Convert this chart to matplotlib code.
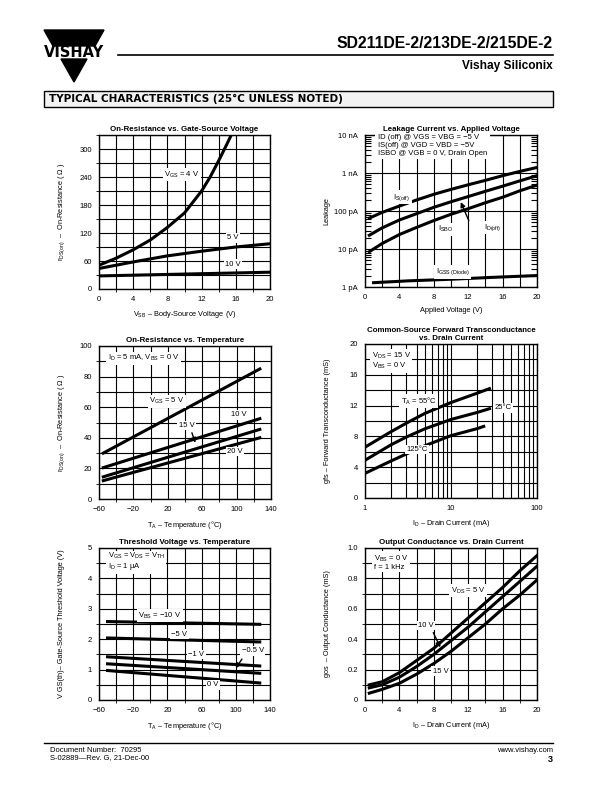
import numpy as np
import matplotlib
matplotlib.use("Agg")
import matplotlib.pyplot as plt
from matplotlib.patches import Polygon, Rectangle
from matplotlib.lines import Line2D

plt.rcParams['font.family'] = ['Liberation Sans', 'DejaVu Sans']
plt.rcParams['mathtext.fontset'] = 'custom'
plt.rcParams['mathtext.rm'] = 'Liberation Sans'
plt.rcParams['mathtext.it'] = 'Liberation Sans'
plt.rcParams['mathtext.default'] = 'regular'

# --- On-Resistance vs. Gate-Source Voltage
vsb_4v = [0, 2, 4, 6, 8, 10, 12, 13, 14, 15, 15.6]
rds_4v = [51, 66, 84, 105, 132, 163, 210, 240, 275, 312, 335]
vsb_5v = [0, 4, 8, 12, 16, 20]
rds_5v = [44, 58, 71, 81, 90, 97]
vsb_10v = [0, 5, 10, 15, 20]
rds_10v = [28, 30, 32, 34, 36]

# --- Leakage Current vs. Applied Voltage (pA)
v_leak = [0.5, 2, 4, 6, 8, 10, 12, 14, 16, 18, 20]
is_off = [65, 92, 135, 195, 275, 370, 490, 640, 850, 1100, 1400]
id_off = [23, 36, 58, 85, 125, 175, 240, 330, 450, 620, 850]
isbo = [8.5, 14, 24, 37, 56, 82, 115, 165, 230, 340, 480]
v_igss = [1, 5, 10, 15, 20]
igss = [1.3, 1.45, 1.6, 1.8, 2.0]

# --- On-Resistance vs. Temperature
temp_r = [-55, 127]
rds_t5 = [30, 85]
rds_t10 = [20.5, 52.5]
rds_t15 = [14.5, 45.5]
rds_t20 = [12, 40]

# --- Forward Transconductance vs. Drain Current
id_m55 = [1, 2, 3, 5, 10, 20, 28]
gfs_m55 = [6.6, 8.6, 9.7, 11.0, 12.4, 13.6, 14.2]
id_25 = [1, 2, 3, 5, 10, 20, 28]
gfs_25 = [4.9, 6.9, 7.9, 9.0, 10.2, 11.1, 11.6]
id_125 = [1, 2, 3, 5, 10, 20, 24]
gfs_125 = [3.2, 4.8, 5.7, 6.8, 8.1, 9.0, 9.3]

# --- Threshold Voltage vs. Temperature
temp_v = [-50, 128]
vth_m10 = [2.58, 2.49]
vth_m5 = [2.04, 1.91]
vth_m1 = [1.42, 1.12]
vth_m05 = [1.19, 0.88]
vth_0 = [0.97, 0.56]

# --- Output Conductance vs. Drain Current
id_gos = [0.5, 2, 4, 6, 8, 10, 12, 14, 16, 18, 20]
gos_5v = [0.10, 0.12, 0.18, 0.26, 0.34, 0.44, 0.54, 0.64, 0.74, 0.85, 0.95]
gos_10v = [0.08, 0.10, 0.15, 0.22, 0.30, 0.39, 0.48, 0.58, 0.68, 0.78, 0.88]
gos_15v = [0.045, 0.07, 0.11, 0.17, 0.24, 0.32, 0.41, 0.50, 0.60, 0.69, 0.79]

W, H = 612, 792
fig = plt.figure(figsize=(6.12, 7.92), dpi=100)

def box(x0, y0, x1, y1):
    return [x0 / W, 1 - y1 / H, (x1 - x0) / W, (y1 - y0) / H]

TICK = 5.5
LBL = 5.3
CLW = 2.2
white = dict(facecolor='white', edgecolor='none', pad=1.0)

def setup(ax, title, xlabel, ylabel, lx, ly=-0.13):
    ax.set_title(title, fontsize=5.7, fontweight='bold', pad=3)
    ax.set_xlabel(xlabel, fontsize=LBL)
    ax.set_ylabel(ylabel, fontsize=LBL)
    ax.yaxis.set_label_coords(lx, 0.5)
    ax.xaxis.set_label_coords(0.5, ly)
    ax.tick_params(labelsize=TICK, length=0, pad=5)
    for s in ax.spines.values():
        s.set_linewidth(1.0)
    ax.grid(True, which='both', color='black', lw=0.8)
    ax.set_axisbelow(True)

def lab(ax, x, y, s, **kw):
    ax.text(x, y, s, fontsize=TICK, ha='center', va='center', bbox=white, **kw)

# ---------- Plot 1
ax1 = fig.add_axes(box(99, 135, 270, 289))
ax1.plot(vsb_4v, rds_4v, color='black', lw=CLW)
ax1.plot(vsb_5v, rds_5v, color='black', lw=CLW)
ax1.plot(vsb_10v, rds_10v, color='black', lw=CLW)
ax1.set_xlim(0, 20)
ax1.set_ylim(0, 330)
ax1.set_xticks(np.arange(0, 21, 4))
ax1.set_xticks(np.arange(0, 21, 2), minor=True)
ax1.set_yticks(np.arange(0, 301, 60))
ax1.set_yticks(np.arange(0, 331, 30), minor=True)
setup(ax1, 'On-Resistance vs. Gate-Source Voltage',
      'V$_{SB}$ – Body-Source Voltage (V)',
      'r$_{DS(on)}$  –  On-Resistance ( Ω )', -0.185)
lab(ax1, 9.7, 245, 'V$_{GS}$ = 4 V')
lab(ax1, 15.7, 110, '5 V')
lab(ax1, 15.7, 53, '10 V')

# ---------- Plot 2
ax2 = fig.add_axes(box(365, 135, 537, 287))
pA = 1e-12
ax2.plot(v_leak, np.array(is_off) * pA, color='black', lw=CLW)
ax2.plot(v_leak, np.array(id_off) * pA, color='black', lw=CLW)
ax2.plot(v_leak, np.array(isbo) * pA, color='black', lw=CLW)
ax2.plot(v_igss, np.array(igss) * pA, color='black', lw=CLW)
ax2.set_yscale('log')
ax2.set_xlim(0, 20)
ax2.set_ylim(1e-12, 1e-8)
ax2.set_xticks(np.arange(0, 21, 4))
ax2.set_xticks(np.arange(0, 21, 2), minor=True)
ax2.set_yticks([1e-12, 1e-11, 1e-10, 1e-9, 1e-8])
ax2.set_yticklabels(['1 pA', '10 pA', '100 pA', '1 nA', '10 nA'])
setup(ax2, 'Leakage Current vs. Applied Voltage', 'Applied Voltage (V)', 'Leakage', -0.2)
ax2.grid(False, which='both')
ax2.grid(True, which='major', color='black', lw=0.8)
ax2.grid(True, which='minor', axis='x', color='black', lw=0.8)
ax2.tick_params(axis='y', which='minor', direction='in', length=4.5, width=0.8,
                left=True, right=True, labelleft=False)
ax2.tick_params(axis='x', which='minor', length=0)
ax2.text(1.5, 5.3e-9, 'ID (off) @ VGS = VBG = −5 V\nIS(off) @ VGD = VBD = −5V\n'
         'ISBO @ VGB = 0 V, Drain Open', fontsize=TICK, va='center', ha='left',
         linespacing=1.15, bbox=dict(facecolor='white', edgecolor='none', pad=2))
lab(ax2, 4.3, 2.3e-10, 'I$_{S(off)}$')
lab(ax2, 9.4, 3.3e-11, 'I$_{SBO}$')
lab(ax2, 14.8, 3.7e-11, 'I$_{D(off)}$')
lab(ax2, 10.2, 2.5e-12, 'I$_{GSS\\ (Diode)}$')
ax2.annotate('', xy=(11.0, 2.0e-10), xytext=(12.2, 4.8e-11),
             arrowprops=dict(arrowstyle='-|>', color='black', lw=1.0, mutation_scale=7))

# ---------- Plot 3
ax3 = fig.add_axes(box(99, 346, 271, 499))
for yv in (rds_t5, rds_t10, rds_t15, rds_t20):
    ax3.plot(temp_r, yv, color='black', lw=CLW)
ax3.set_xlim(-60, 140)
ax3.set_ylim(0, 100)
ax3.set_xticks(np.arange(-60, 141, 40))
ax3.set_xticks(np.arange(-60, 141, 20), minor=True)
ax3.set_yticks(np.arange(0, 101, 20))
ax3.set_yticks(np.arange(0, 101, 10), minor=True)
setup(ax3, 'On-Resistance vs. Temperature', 'T$_A$ – Temperature (°C)',
      'r$_{DS(on)}$  –  On-Resistance ( Ω )', -0.185)
ax3.text(-50, 92, 'I$_D$ = 5 mA, V$_{BS}$ = 0 V', fontsize=TICK, va='center', bbox=white)
lab(ax3, 19, 64, 'V$_{GS}$ = 5 V')
lab(ax3, 103, 55, '10 V')
lab(ax3, 42, 48, '15 V')
lab(ax3, 98, 31, '20 V')
ax3.annotate('', xy=(53, 35), xytext=(47, 45),
             arrowprops=dict(arrowstyle='-|>', color='black', lw=1.0, mutation_scale=7))

# ---------- Plot 4
ax4 = fig.add_axes(box(365, 344, 537, 498))
ax4.plot(id_m55, gfs_m55, color='black', lw=CLW)
ax4.plot(id_25, gfs_25, color='black', lw=CLW)
ax4.plot(id_125, gfs_125, color='black', lw=CLW)
ax4.set_xscale('log')
ax4.set_xlim(1, 100)
ax4.set_ylim(0, 20)
ax4.set_xticks([1, 10, 100])
ax4.set_xticklabels(['1', '10', '100'])
ax4.set_yticks(np.arange(0, 21, 4))
ax4.set_yticks(np.arange(0, 21, 2), minor=True)
setup(ax4, 'Common-Source Forward Transconductance\nvs. Drain Current',
      'I$_D$ – Drain Current (mA)', 'gfs – Forward Transconductance (mS)', -0.2)
ax4.tick_params(which='minor', length=0)
ax4.text(1.2, 17.8, 'V$_{DS}$ = 15 V\nV$_{BS}$ = 0 V', fontsize=TICK, va='center',
         linespacing=1.0, bbox=white)
lab(ax4, 4.2, 12.6, 'T$_A$ = 55°C')
lab(ax4, 40, 11.7, '25°C')
lab(ax4, 4.0, 6.3, '125°C')

# ---------- Plot 5
ax5 = fig.add_axes(box(99, 548, 270, 700))
for yv in (vth_m10, vth_m5, vth_m1, vth_m05, vth_0):
    ax5.plot(temp_v, yv, color='black', lw=CLW)
ax5.set_xlim(-60, 140)
ax5.set_ylim(0, 5)
ax5.set_xticks(np.arange(-60, 141, 40))
ax5.set_xticks(np.arange(-60, 141, 20), minor=True)
ax5.set_yticks(np.arange(0, 5.1, 1))
ax5.set_yticks(np.arange(0, 5.1, 0.5), minor=True)
setup(ax5, 'Threshold Voltage vs. Temperature', 'T$_A$ – Temperature (°C)',
      'V GS(th)– Gate-Source Threshold Voltage (V)', -0.2)
ax5.text(-50, 4.55, 'V$_{GS}$ = V$_{DS}$ = V$_{TH}$\nI$_D$ = 1 µA', fontsize=TICK,
         va='center', linespacing=1.0, bbox=white)
lab(ax5, 11, 2.78, 'V$_{BS}$ = −10 V')
lab(ax5, 34, 2.17, '−5 V')
lab(ax5, 54, 1.5, '−1 V')
lab(ax5, 120, 1.62, '−0.5 V')
lab(ax5, 73, 0.5, '0 V')
ax5.annotate('', xy=(98, 0.97), xytext=(109, 1.42),
             arrowprops=dict(arrowstyle='-|>', color='black', lw=1.0, mutation_scale=7))

# ---------- Plot 6
ax6 = fig.add_axes(box(365, 548, 537, 700))
ax6.plot(id_gos, gos_5v, color='black', lw=CLW)
ax6.plot(id_gos, gos_10v, color='black', lw=CLW)
ax6.plot(id_gos, gos_15v, color='black', lw=CLW)
ax6.set_xlim(0, 20)
ax6.set_ylim(0, 1.0)
ax6.set_xticks(np.arange(0, 21, 4))
ax6.set_xticks(np.arange(0, 21, 2), minor=True)
ax6.set_yticks([0, 0.2, 0.4, 0.6, 0.8, 1.0])
ax6.set_yticklabels(['0', '0.2', '0.4', '0.6', '0.8', '1.0'])
ax6.set_yticks(np.arange(0, 1.01, 0.1), minor=True)
setup(ax6, 'Output Conductance vs. Drain Current', 'I$_D$ – Drain Current (mA)',
      'gos  – Output Conductance (mS)', -0.2)
ax6.text(1.0, 0.905, 'V$_{BS}$ = 0 V\nf = 1 kHz', fontsize=TICK, va='center',
         linespacing=1.0, bbox=white)
lab(ax6, 12, 0.72, 'V$_{DS}$ = 5 V')
lab(ax6, 7.1, 0.49, '10 V')
lab(ax6, 8.8, 0.19, '15 V')
ax6.annotate('', xy=(8.9, 0.33), xytext=(7.8, 0.46),
             arrowprops=dict(arrowstyle='-|>', color='black', lw=1.0, mutation_scale=7))

# ---------- Page header / footer
def P(x, y):
    return (x / W, 1 - y / H)

fig.patches.append(Polygon([P(44, 30), P(104, 30), P(95, 46), P(53, 46)],
                           closed=True, color='black', transform=fig.transFigure))
fig.patches.append(Polygon([P(61, 59), P(87, 59), P(74, 82)],
                           closed=True, color='black', transform=fig.transFigure))
fig.text(*P(74, 52.5), 'VISHAY', fontsize=10.5, fontweight='bold', ha='center',
         va='center', family='Liberation Sans Narrow')
fig.text(*P(553, 44), 'SD211DE-2/213DE-2/215DE-2', fontsize=11.3, fontweight='bold',
         ha='right', va='center')
fig.lines.append(Line2D([118 / W, 553 / W], [1 - 55 / H] * 2, color='black', lw=1.2,
                        transform=fig.transFigure))
fig.text(*P(553, 66), 'Vishay Siliconix', fontsize=8.6, fontweight='bold',
         ha='right', va='center')
fig.patches.append(Rectangle(P(44, 107), 509 / W, 16 / H, facecolor='#f2f2f2',
                             edgecolor='black', lw=1.0, transform=fig.transFigure))
fig.text(*P(49, 99), 'TYPICAL CHARACTERISTICS (25°C UNLESS NOTED)', fontsize=7.5,
         fontweight='bold', ha='left', va='center', family='DejaVu Sans')

fig.lines.append(Line2D([44 / W, 553 / W], [1 - 743 / H] * 2, color='black', lw=1.0,
                        transform=fig.transFigure))
fig.text(*P(50, 750), 'Document Number:  70295', fontsize=5.5, ha='left', va='center')
fig.text(*P(50, 758), 'S-02889—Rev. G, 21-Dec-00', fontsize=5.5, ha='left', va='center')
fig.text(*P(553, 750), 'www.vishay.com', fontsize=5.5, ha='right', va='center')
fig.text(*P(553, 759), '3', fontsize=6.5, fontweight='bold', ha='right', va='center')

fig.savefig('out.png', dpi=100)
